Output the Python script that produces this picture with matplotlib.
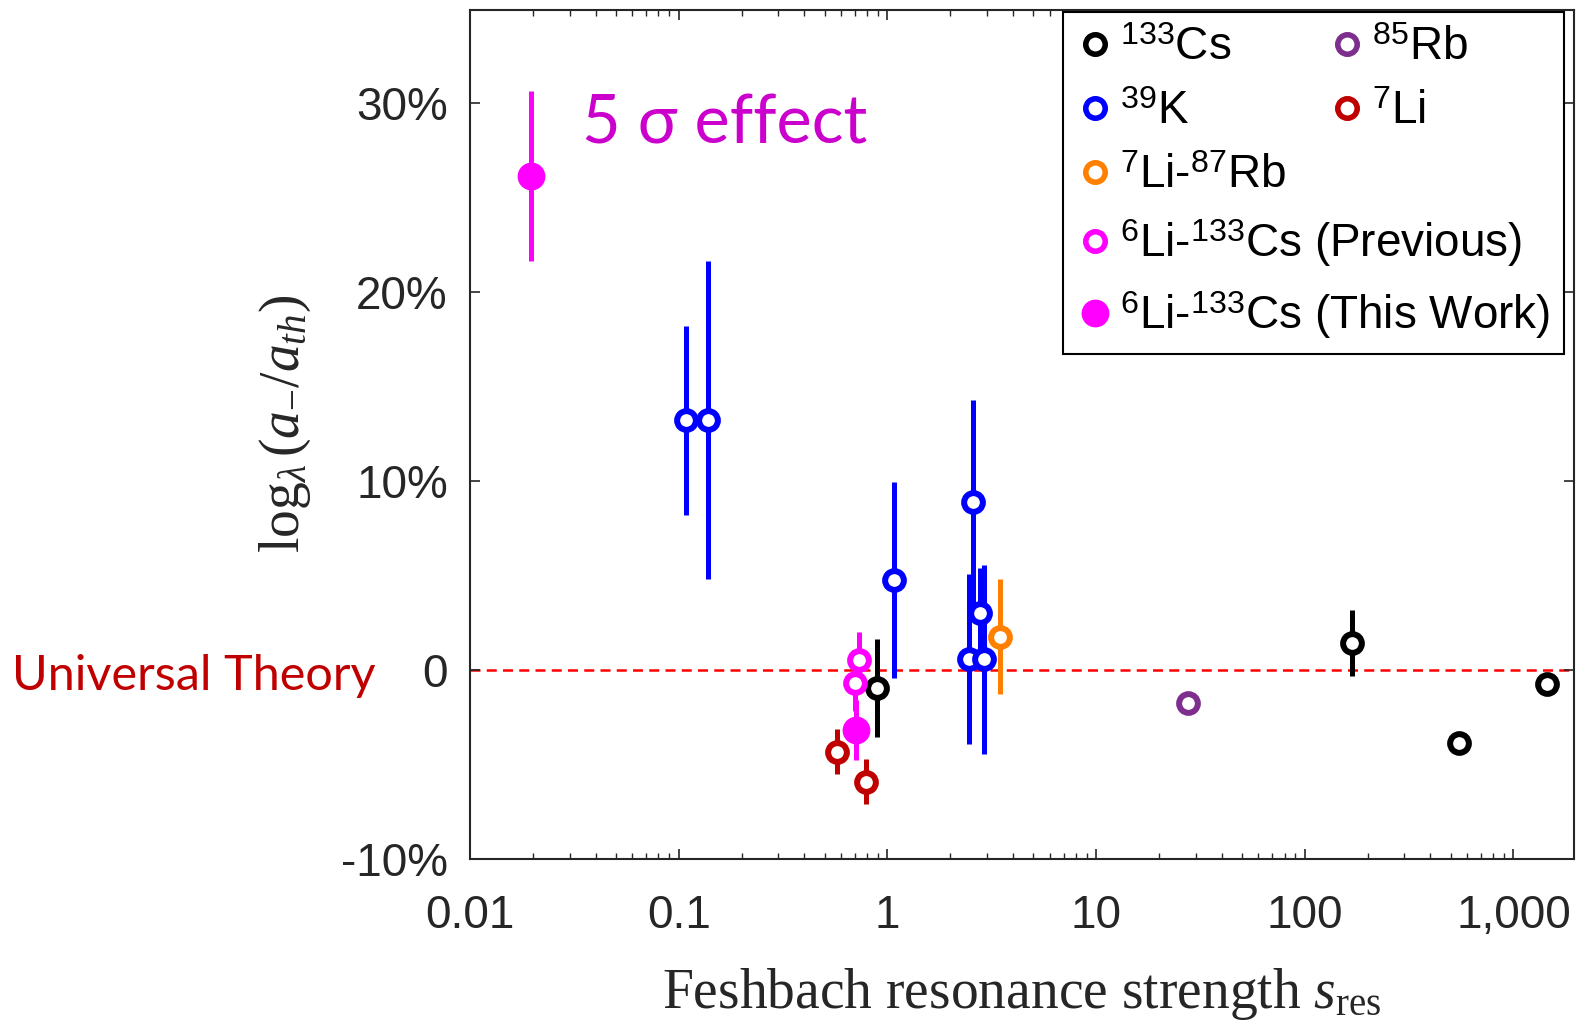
import matplotlib
matplotlib.use("Agg")
import matplotlib.pyplot as plt
from matplotlib.lines import Line2D
from matplotlib.ticker import FixedLocator, FixedFormatter, LogLocator, NullFormatter

plt.rcParams["font.family"] = ["Liberation Sans", "DejaVu Sans"]
plt.rcParams["mathtext.fontset"] = "custom"
plt.rcParams["mathtext.rm"] = "Liberation Serif"
plt.rcParams["mathtext.it"] = "Liberation Serif:italic"
plt.rcParams["mathtext.sf"] = "Liberation Sans"

# resonance strength s_res, log_lambda(a-/a_th) in %, error in %
CS_S = [0.887, 168, 551, 1449]
CS_Y = [-0.97, 1.44, -3.88, -0.74]
CS_ERR = [2.6, 1.75, 0.0, 0.0]

K_S = [0.108, 0.138, 1.08, 2.56, 2.46, 2.89, 2.79]
K_Y = [13.2, 13.2, 4.76, 8.9, 0.57, 0.57, 3.0]
K_ERR = [5.0, 8.4, 5.2, 5.4, 4.5, 5.0, 2.4]

LIRB_S = [3.48]
LIRB_Y = [1.76]
LIRB_ERR = [3.05]

LICS_PREV_S = [0.73, 0.70]
LICS_PREV_Y = [0.53, -0.67]
LICS_PREV_ERR = [1.5, 1.5]

LICS_NEW_S = [0.0196, 0.706]
LICS_NEW_Y = [26.1, -3.17]
LICS_NEW_ERR = [4.5, 1.6]

RB_S = [27.5]
RB_Y = [-1.73]

LI_S = [0.574, 0.788]
LI_Y = [-4.32, -5.91]
LI_ERR = [1.2, 1.2]

X_TICKS = [0.01, 0.1, 1, 10, 100, 1000]
X_TICK_LABELS = ["0.01", "0.1", "1", "10", "100", "1,000"]
Y_TICKS = [-10, 0, 10, 20, 30]
Y_TICK_LABELS = ["-10%", "0", "10%", "20%", "30%"]

BLACK = "black"
BLUE = "#0000FF"
ORANGE = "#FF8000"
MAGENTA = "#FF00FF"
PURPLE = "#7E2F8E"
DARKRED = "#C00000"
AXIS_GRAY = "#262626"

W, H = 1583, 1030
fig = plt.figure(figsize=(W / 100, H / 100), dpi=100)
ax = fig.add_axes([470 / W, 1 - 859 / H, 1104 / W, 849 / H])

ax.axhline(0, color="red", lw=1.8, ls=(0, (4, 2.5)), zorder=1)


def open_series(s, y, err, color):
    ax.errorbar(s, y, yerr=err, fmt="o", color=color, ms=13.5, mew=4.3,
                mfc="white", mec=color, elinewidth=3.6, capsize=0, zorder=3)


open_series(CS_S, CS_Y, CS_ERR, BLACK)
open_series(K_S, K_Y, K_ERR, BLUE)
open_series(LIRB_S, LIRB_Y, LIRB_ERR, ORANGE)
open_series(LICS_PREV_S, LICS_PREV_Y, LICS_PREV_ERR, MAGENTA)
open_series(LI_S, LI_Y, LI_ERR, DARKRED)
ax.plot(RB_S, RB_Y, "o", color=PURPLE, ms=13.5, mew=4.3, mfc="white", zorder=3)
ax.errorbar(LICS_NEW_S, LICS_NEW_Y, yerr=LICS_NEW_ERR, fmt="o", color=MAGENTA,
            ms=19, mew=1, elinewidth=3.6, capsize=0, zorder=4)

ax.set_xscale("log")
ax.set_xlim(0.01, 1950)
ax.set_ylim(-10, 34.9)

ax.xaxis.set_major_locator(FixedLocator(X_TICKS))
ax.xaxis.set_major_formatter(FixedFormatter(X_TICK_LABELS))
ax.xaxis.set_minor_locator(LogLocator(base=10, subs=range(2, 10), numticks=20))
ax.xaxis.set_minor_formatter(NullFormatter())
ax.yaxis.set_major_locator(FixedLocator(Y_TICKS))
ax.yaxis.set_major_formatter(FixedFormatter(Y_TICK_LABELS))

ax.tick_params(which="both", direction="in", top=True, right=True,
               color=AXIS_GRAY, labelcolor=AXIS_GRAY, labelsize=33)
ax.tick_params(which="major", length=7, width=1.2)
ax.tick_params(which="minor", length=4, width=1.0)
ax.tick_params(axis="x", pad=25)
ax.tick_params(axis="y", pad=16)
for sp in ax.spines.values():
    sp.set_color(AXIS_GRAY)
    sp.set_linewidth(1.5)

ax.set_ylabel(r"$\log_{\lambda}(a_{-}/a_{th})$", fontsize=40, color=AXIS_GRAY)
ax.yaxis.set_label_coords(-0.142, 0.512)
ax.set_xlabel(r"Feshbach resonance strength $s_{\mathrm{res}}$",
              family="Liberation Serif", fontsize=40, color=AXIS_GRAY)
ax.xaxis.set_label_coords(0.5, -0.126)

ax.text(0.1014, 0.8433, "5 \u03c3 effect", transform=ax.transAxes,
        va="baseline", ha="left", color="#CC00CC", fontsize=48, family="Lato")
fig.text(12 / W, 1 - 690 / H, "Universal Theory", va="baseline", ha="left",
         color=DARKRED, fontsize=35, family="Lato")


def handle(color, filled=False):
    if filled:
        return Line2D([], [], ls="none", marker="o", color=color, ms=19, mew=1)
    return Line2D([], [], ls="none", marker="o", color=color, mfc="white",
                  ms=14, mew=4)


leg_style = dict(fontsize=33, handlelength=0.8, handletextpad=0.15,
                 borderpad=0.3, labelspacing=0.44, borderaxespad=0)

col1 = ax.legend(
    [handle(BLACK), handle(BLUE), handle(ORANGE), handle(MAGENTA), handle(MAGENTA, True)],
    [r"$^{\mathsf{133}}$Cs", r"$^{\mathsf{39}}$K", r"$^{\mathsf{7}}$Li-$^{\mathsf{87}}$Rb",
     r"$^{\mathsf{6}}$Li-$^{\mathsf{133}}$Cs (Previous)",
     r"$^{\mathsf{6}}$Li-$^{\mathsf{133}}$Cs (This Work)"],
    loc="upper left", bbox_to_anchor=(0.537, 0.9976), fancybox=False,
    framealpha=1, edgecolor="black", **leg_style)
col1.get_frame().set_linewidth(1.5)
ax.add_artist(col1)

ax.legend([handle(PURPLE), handle(DARKRED)],
          [r"$^{\mathsf{85}}$Rb", r"$^{\mathsf{7}}$Li"],
          loc="upper left", bbox_to_anchor=(0.765, 0.9976), frameon=False,
          **leg_style)

fig.savefig("out.png", dpi=100)
